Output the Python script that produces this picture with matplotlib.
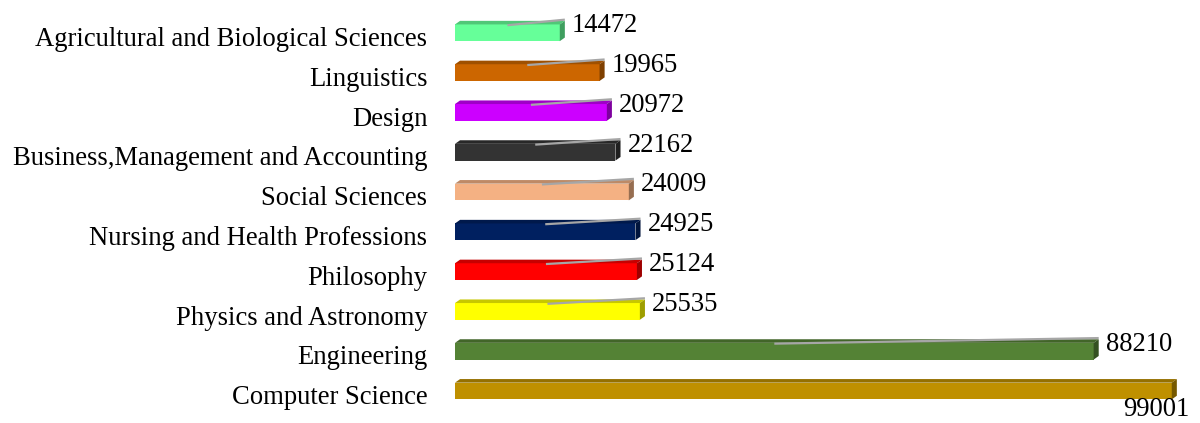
import matplotlib
matplotlib.use("Agg")
import matplotlib.pyplot as plt
from matplotlib.patches import Polygon
from matplotlib.colors import to_rgb

categories = [
    "Computer Science",
    "Engineering",
    "Physics and Astronomy",
    "Philosophy",
    "Nursing and Health Professions",
    "Social Sciences",
    "Business,Management and Accounting",
    "Design",
    "Linguistics",
    "Agricultural and Biological Sciences",
]
values = [99001, 88210, 25535, 25124, 24925, 24009, 22162, 20972, 19965, 14472]
colors = ["#BF9000", "#548235", "#FFFF00", "#FF0000", "#002060",
          "#F4B183", "#333333", "#CC00FF", "#CC6600", "#66FF99"]

plt.rcParams["font.family"] = ["Liberation Serif", "DejaVu Serif"]

fig = plt.figure(figsize=(12, 4.23), dpi=100)
ax = fig.add_axes([455 / 1200, 0, (1179 - 455) / 1200, 1])
ax.set_xlim(0, 100000)
ax.set_ylim(-0.804, 9.824)
ax.axis("off")


def shade(c, f):
    r, g, b = to_rgb(c)
    return (r * f, g * f, b * f)


h = 0.42      # front face height
dx = 700      # depth offset in x (data units)
dy = 0.09     # depth offset in y
fs = 19.2

ax.barh(range(len(values)), values, height=h, color=colors, zorder=2,
        linewidth=0)

for i, (v, c) in enumerate(zip(values, colors)):
    top = i + h / 2
    right = v
    # top face
    ax.add_patch(Polygon([(0, top), (dx, top + dy), (right + dx, top + dy), (right, top)],
                         closed=True, facecolor=shade(c, 0.78), edgecolor="none", zorder=2))
    # side face
    ax.add_patch(Polygon([(right, top), (right + dx, top + dy), (right + dx, i - h / 2 + dy),
                          (right, i - h / 2)],
                         closed=True, facecolor=shade(c, 0.62), edgecolor="none", zorder=2))
    # leader line and data label
    if i == 0:
        ax.text(right + dx + 1800, -0.64, f"{v}", ha="right", va="baseline", fontsize=fs)
    else:
        ax.plot([v / 2, right + dx], [top - 0.02, top + dy + 0.03], color="#A6A6A6",
                lw=1.6, zorder=3, solid_capstyle="butt")
        ax.text(right + dx + 1000, i + 0.18, f"{v}", ha="left", va="center", fontsize=fs)
    # category label
    ax.text(-3800, i - 0.17, categories[i], ha="right", va="center", fontsize=fs)

fig.savefig("out.png", dpi=100)
